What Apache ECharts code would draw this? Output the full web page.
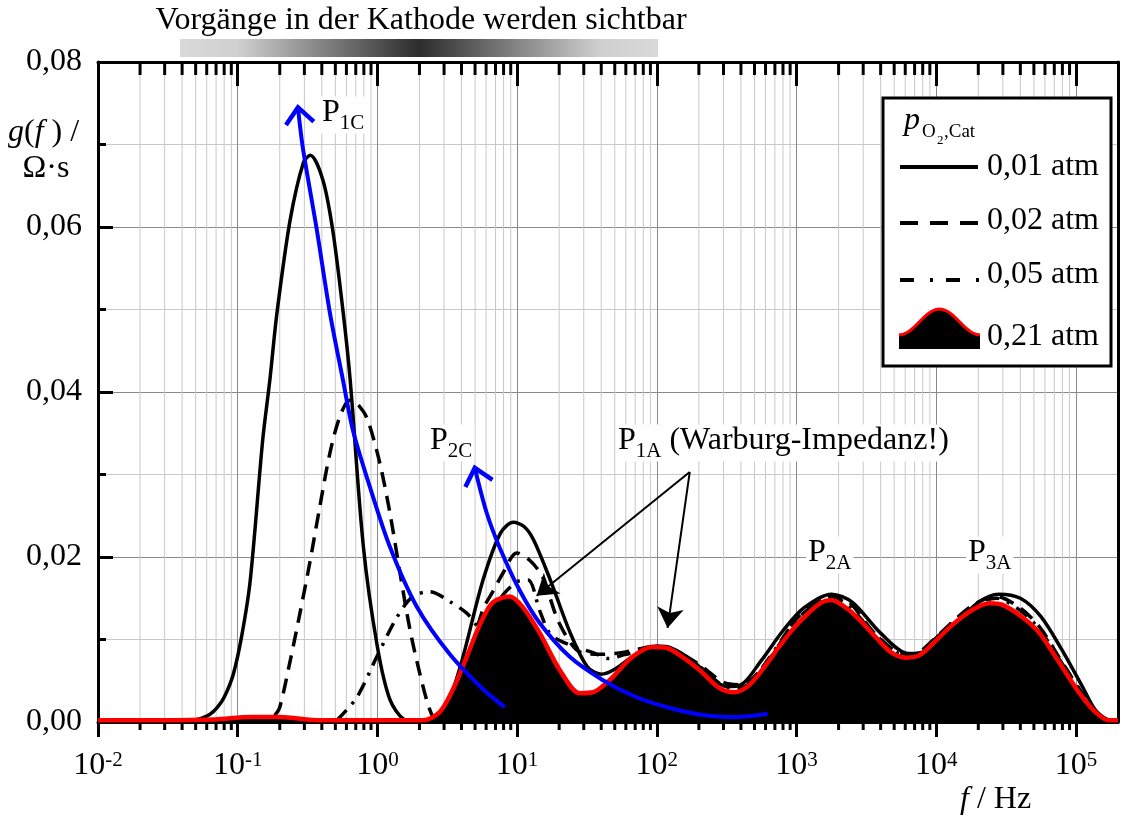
<!DOCTYPE html>
<html>
<head>
<meta charset="utf-8">
<script src="https://cdn.jsdelivr.net/npm/echarts@6/dist/echarts.min.js"></script>
<style>
  html, body { margin: 0; padding: 0; background: #fff; }
  #c { width: 1130px; height: 816px; }
</style>
</head>
<body>
<div id="c"></div>
<script>
const FONT = '"Liberation Serif", "Times New Roman", serif';
const FS = 32;

// Distribution of relaxation times g(f) in Ω·s over frequency f in Hz
// p(O2, cathode) = 0,01 atm
const f001 = [0.04, 0.054, 0.063, 0.071, 0.08, 0.093, 0.107, 0.123, 0.151, 0.17, 0.191, 0.237, 0.295, 0.331, 0.407, 0.479, 0.569, 0.638, 0.794, 1.0, 1.23, 1.55, 2.0, 2.8, 3.4, 4.1, 5.7, 7.6, 9.4, 11.2, 13.1, 17.3, 24, 31.8, 40, 50, 71, 100, 126, 178, 251, 316, 400, 562, 794, 1122, 1778, 2512, 3981, 6310, 8913, 12600, 20000, 28000, 40000, 56000, 79000, 112000, 141000, 178000, 200000];
const g001 = [0, 0.0004, 0.0009, 0.0017, 0.003, 0.0058, 0.0105, 0.0172, 0.0342, 0.0415, 0.0496, 0.0608, 0.0678, 0.0687, 0.0657, 0.0596, 0.0496, 0.0415, 0.0212, 0.0091, 0.0027, 0.0003, 0, 0.001, 0.0035, 0.0079, 0.0172, 0.0229, 0.0242, 0.0237, 0.0221, 0.0172, 0.0108, 0.0067, 0.0058, 0.0064, 0.0082, 0.0092, 0.009, 0.0075, 0.0052, 0.0043, 0.0045, 0.0075, 0.011, 0.0138, 0.0155, 0.0145, 0.0108, 0.0083, 0.0088, 0.0113, 0.0145, 0.0155, 0.015, 0.0128, 0.0088, 0.0042, 0.0012, 0.0001, 0];

// p(O2, cathode) = 0,02 atm
const f002 = [0.184, 0.2, 0.236, 0.279, 0.328, 0.387, 0.457, 0.538, 0.635, 0.749, 0.853, 1.04, 1.23, 1.45, 1.71, 2.01, 2.37, 2.66, 3.3, 4.36, 5.68, 6.7, 7.89, 9.94, 12.3, 15.2, 20, 28, 40, 60, 100, 150, 200, 300, 400, 640, 1000, 1500, 1900, 2400, 3700, 6100, 7600, 10000, 18000, 27000, 40000, 55000, 76000, 106000, 140000, 175000, 200000];
const g002 = [0.0008, 0.0018, 0.0072, 0.0132, 0.0193, 0.0261, 0.0326, 0.037, 0.039, 0.0382, 0.0366, 0.0314, 0.0253, 0.0181, 0.0112, 0.0059, 0.0015, 0.0002, 0.002, 0.007, 0.0136, 0.0158, 0.018, 0.0205, 0.0196, 0.0176, 0.012, 0.0085, 0.0082, 0.0085, 0.0092, 0.0082, 0.007, 0.0048, 0.0045, 0.0077, 0.0125, 0.0148, 0.0153, 0.0145, 0.0106, 0.0081, 0.0085, 0.0103, 0.0141, 0.0152, 0.0138, 0.0115, 0.0078, 0.004, 0.0013, 0.0001, 0];

// p(O2, cathode) = 0,05 atm
const f005 = [0.513, 0.713, 0.99, 1.38, 1.79, 2.37, 3.3, 4.36, 5.4, 6.7, 8, 10, 12, 14.5, 17, 20, 26, 35, 45, 60, 90, 120, 160, 200, 280, 360, 460, 640, 1000, 1500, 1800, 2300, 3700, 6100, 7600, 10000, 18000, 27000, 40000, 55000, 76000, 106000, 140000, 175000, 200000];
const g005 = [0.0002, 0.003, 0.0079, 0.0127, 0.0152, 0.0158, 0.0146, 0.0132, 0.0115, 0.0135, 0.0155, 0.017, 0.0172, 0.0135, 0.0108, 0.0099, 0.0091, 0.0084, 0.0077, 0.0082, 0.0088, 0.0084, 0.0076, 0.0068, 0.0047, 0.004, 0.0047, 0.0078, 0.0124, 0.0147, 0.015, 0.0143, 0.0105, 0.008, 0.0084, 0.0102, 0.014, 0.015, 0.0135, 0.0112, 0.0076, 0.0038, 0.0012, 0.0001, 0];

// p(O2, cathode) = 0,21 atm (air)
const f021 = [0.01, 0.028, 0.069, 0.123, 0.2, 0.39, 1.44, 2.11, 2.79, 3.46, 4.36, 5.41, 6.7, 8.85, 11, 14.5, 20.2, 28, 34.8, 46, 67, 93, 117, 146, 202, 281, 360, 461, 641, 719, 935, 1180, 1510, 1780, 2280, 2820, 3730, 4790, 6120, 7590, 10000, 13100, 18200, 24000, 29800, 41400, 54700, 76000, 106000, 140000, 173000, 200000];
const g021 = [0.0002, 0.0002, 0.0003, 0.0006, 0.0006, 0.0002, 0.0002, 0.0002, 0.0012, 0.0039, 0.0079, 0.0118, 0.0145, 0.0152, 0.0139, 0.0108, 0.0063, 0.0035, 0.0036, 0.0051, 0.0079, 0.0091, 0.009, 0.0081, 0.0063, 0.0041, 0.0036, 0.0045, 0.0075, 0.0087, 0.0112, 0.013, 0.0145, 0.0148, 0.0138, 0.0124, 0.0102, 0.0084, 0.0078, 0.0081, 0.0099, 0.0118, 0.0136, 0.0144, 0.0142, 0.0127, 0.0108, 0.0072, 0.0035, 0.0011, 0.0002, 0.0002];

// Shift of peaks P1C and P2C with rising oxygen partial pressure (first point = arrow tip)
const fTrend1C = [0.27, 0.292, 0.368, 0.457, 0.566, 0.667, 0.883, 1.23, 1.91, 3.3, 5.68, 8.15];
const gTrend1C = [0.0745, 0.0697, 0.0597, 0.0496, 0.0415, 0.0354, 0.0285, 0.0212, 0.014, 0.0082, 0.004, 0.0018];
const fTrend2C = [4.98, 6.07, 7.52, 10.4, 14.5, 23.8, 40.9, 71.7, 124, 213, 372, 621];
const gTrend2C = [0.0308, 0.0253, 0.0211, 0.016, 0.012, 0.0079, 0.0051, 0.003, 0.0017, 0.00085, 0.0006, 0.001];

// Pointer from the P1A note to both Warburg peaks
const p1aFrom = [172, 0.0303];
const p1aTargets = [[13.8, 0.0153], [119.4, 0.0114]];

// Axis tick labels
const yTicks = [0, 0.02, 0.04, 0.06, 0.08];
const xDecades = [0.01, 0.1, 1, 10, 100, 1000, 10000, 100000];

const pair = (fs, gs) => fs.map((f, i) => [f, gs[i]]);

// Log-axis sub-decade positions (2..9 × 10^k) for minor grid lines and ticks
const minorPos = [];
for (let e = -2; e <= 5; e++) {
  for (let m = 2; m <= 9; m++) {
    const f = m * Math.pow(10, e);
    if (f < 1.99e5) minorPos.push([f, 0]);
  }
}

// arrow heads: [f before tip, g before tip, f tip, g tip]
const trendHeads = [
  [fTrend1C[1], gTrend1C[1], fTrend1C[0], gTrend1C[0]],
  [fTrend2C[1], gTrend2C[1], fTrend2C[0], gTrend2C[0]]
];

const baseLine = {
  type: 'line', symbol: 'none', showSymbol: false, smooth: 0.3,
  silent: true, animation: false
};

const chart = echarts.init(document.getElementById('c'));

// legend hump icon
const humpTop = [];
for (let i = 0; i <= 24; i++) {
  const t = i / 24;
  humpTop.push([899 + 81 * t, 335 - 26 * Math.pow(Math.sin(Math.PI * t), 2)]);
}

const txt = (x, y, text, z) => ({
  type: 'text', x: x, y: y, z: z || 100,
  style: {
    text: text, font: FS + 'px ' + FONT, fill: '#000',
    align: 'left', verticalAlign: 'middle',
    textAlign: 'left', textVerticalAlign: 'middle'
  }
});

const subRich = {
  m: { fontFamily: FONT, fontSize: FS, verticalAlign: 'top', color: '#000' },
  s: { fontFamily: FONT, fontSize: 21, verticalAlign: 'top', padding: [16, 0, 0, 0], color: '#000' }
};

const peakLabel = (x, y, text) => ({
  type: 'text', x: x, y: y, z: 100,
  style: {
    text: text, rich: subRich, fill: '#000',
    align: 'left', verticalAlign: 'middle', textAlign: 'left', textVerticalAlign: 'middle',
    backgroundColor: '#fff', padding: [0, 2, 0, 2]
  }
});

chart.setOption({
  animation: false,
  grid: { left: 98, right: 12, top: 62, bottom: 94, outerBoundsMode: 'none', containLabel: false },
  xAxis: [{
    type: 'log', logBase: 10, min: 0.01, max: 2e5, splitNumber: 8, position: 'bottom',
    axisLine: { show: true, onZero: false, lineStyle: { color: '#000', width: 3 } },
    axisTick: { show: true, inside: false, length: 15, lineStyle: { color: '#000', width: 3 } },
    axisLabel: {
      margin: 28, showMaxLabel: false, color: '#000',
      formatter: v => {
        const e = Math.round(Math.log10(v));
        return xDecades.some(d => Math.abs(Math.log10(d) - e) < 1e-6) ? '{b|10}{s|' + e + '}' : '';
      },
      rich: {
        b: { fontFamily: FONT, fontSize: FS, verticalAlign: 'top', color: '#000' },
        s: { fontFamily: FONT, fontSize: 21, verticalAlign: 'top', color: '#000' }
      }
    },
    splitLine: { show: true, lineStyle: { color: '#8a8a8a', width: 1 } }
  }, {
    type: 'log', logBase: 10, min: 0.01, max: 2e5, splitNumber: 8, position: 'top',
    axisLine: { show: true, onZero: false, lineStyle: { color: '#000', width: 3 } },
    axisTick: { show: true, inside: true, length: 24, lineStyle: { color: '#000', width: 3 } },
    axisLabel: { show: false },
    splitLine: { show: false }
  }],
  yAxis: [{
    type: 'value', min: 0, max: 0.08, interval: 0.02, position: 'left',
    axisLine: { show: true, onZero: false, lineStyle: { color: '#000', width: 3 } },
    axisTick: { show: true, inside: true, length: 15, lineStyle: { color: '#000', width: 3 } },
    minorTick: { show: true, splitNumber: 2, length: 8, lineStyle: { color: '#000', width: 3 } },
    minorSplitLine: { show: true, lineStyle: { color: '#c8c8c8', width: 1 } },
    splitLine: { show: true, lineStyle: { color: '#8a8a8a', width: 1 } },
    axisLabel: {
      margin: 16, color: '#000', fontFamily: FONT, fontSize: FS,
      formatter: v => {
        const t = yTicks.find(k => Math.abs(k - v) < 1e-9);
        return t === undefined ? '' : t.toFixed(2).replace('.', ',');
      }
    }
  }, {
    type: 'value', min: 0, max: 0.08, interval: 0.02, position: 'right',
    axisLine: { show: true, onZero: false, lineStyle: { color: '#000', width: 3 } },
    axisTick: { show: false }, axisLabel: { show: false }, splitLine: { show: false }
  }],
  series: [
    {
      // sub-decade grid lines and ticks of the log frequency axis
      type: 'custom', z: 1, silent: true, clip: false, data: minorPos,
      renderItem: (params, api) => {
        const x = api.coord([api.value(0), 0])[0];
        const cs = params.coordSys;
        return {
          type: 'group', children: [
            { type: 'line', shape: { x1: x, y1: cs.y, x2: x, y2: cs.y + cs.height }, style: { stroke: '#c8c8c8', lineWidth: 1 } },
            { type: 'line', shape: { x1: x, y1: cs.y, x2: x, y2: cs.y + 13 }, style: { stroke: '#000', lineWidth: 3 } },
            { type: 'line', shape: { x1: x, y1: cs.y + cs.height, x2: x, y2: cs.y + cs.height + 8 }, style: { stroke: '#000', lineWidth: 3 } }
          ]
        };
      }
    },
    Object.assign({}, baseLine, { name: '0,01 atm', z: 3, data: pair(f001, g001), lineStyle: { color: '#000', width: 3.5 } }),
    Object.assign({}, baseLine, { name: '0,02 atm', z: 3, data: pair(f002, g002), lineStyle: { color: '#000', width: 3.5, type: [15, 9] } }),
    Object.assign({}, baseLine, { name: '0,05 atm', z: 3, data: pair(f005, g005), lineStyle: { color: '#000', width: 3.5, type: [14, 8, 3, 8] } }),
    Object.assign({}, baseLine, {
      name: '0,21 atm', z: 4, data: pair(f021, g021),
      lineStyle: { color: '#ff0000', width: 4.5 },
      areaStyle: { color: '#000', opacity: 1, origin: 'start' }
    }),
    Object.assign({}, baseLine, { name: 'P1C', z: 5, data: pair(fTrend1C, gTrend1C), lineStyle: { color: '#0000ff', width: 4 } }),
    Object.assign({}, baseLine, { name: 'P2C', z: 5, data: pair(fTrend2C, gTrend2C), lineStyle: { color: '#0000ff', width: 4 } }),
    {
      // open chevron heads at the tips of the trend curves
      type: 'custom', z: 6, silent: true, clip: false, data: trendHeads,
      encode: { x: [0, 2], y: [1, 3] },
      renderItem: (params, api) => {
        const p0 = api.coord([api.value(0), api.value(1)]);
        const p1 = api.coord([api.value(2), api.value(3)]);
        const dx = p1[0] - p0[0], dy = p1[1] - p0[1];
        const len = Math.hypot(dx, dy) || 1;
        const ux = dx / len, uy = dy / len, nx = -uy, ny = ux;
        const back = 16, side = 14;
        return {
          type: 'polyline',
          shape: { points: [
            [p1[0] - back * ux + side * nx, p1[1] - back * uy + side * ny],
            [p1[0], p1[1]],
            [p1[0] - back * ux - side * nx, p1[1] - back * uy - side * ny]
          ] },
          style: { stroke: '#0000ff', lineWidth: 4.5, fill: null, lineJoin: 'miter', lineCap: 'butt' }
        };
      }
    },
    {
      type: 'lines', coordinateSystem: 'cartesian2d', z: 6, silent: true,
      symbol: ['none', 'arrow'], symbolSize: [13, 20],
      lineStyle: { color: '#000', width: 2, opacity: 1, curveness: 0 },
      itemStyle: { color: '#000' },
      data: p1aTargets.map(t => ({ coords: [p1aFrom, t] }))
    }
  ],
  graphic: [
    // cathode visibility bar
    {
      type: 'rect', z: 100, shape: { x: 180, y: 39, width: 478, height: 18 },
      style: {
        fill: new echarts.graphic.LinearGradient(0, 0, 1, 0, [
          { offset: 0, color: '#d9d9d9' }, { offset: 0.12, color: '#d0d0d0' },
          { offset: 0.5, color: '#2c2c2c' },
          { offset: 0.88, color: '#d0d0d0' }, { offset: 1, color: '#d9d9d9' }
        ])
      }
    },
    {
      type: 'text', x: 421, y: 21, z: 100,
      style: { text: 'Vorgänge in der Kathode werden sichtbar', font: FS + 'px ' + FONT, fill: '#000',
        align: 'center', verticalAlign: 'middle', textAlign: 'center', textVerticalAlign: 'middle' }
    },
    // y axis name
    {
      type: 'text', x: 8, y: 133, z: 100,
      style: {
        text: '{i|g}{n|(}{i|f}{n| ) /}', fill: '#000',
        rich: { i: { fontFamily: FONT, fontSize: FS, fontStyle: 'italic', color: '#000' }, n: { fontFamily: FONT, fontSize: FS, color: '#000' } },
        align: 'left', verticalAlign: 'middle', textAlign: 'left', textVerticalAlign: 'middle'
      }
    },
    {
      type: 'text', x: 46, y: 169, z: 100,
      style: { text: 'Ω·s', font: FS + 'px ' + FONT, fill: '#000',
        align: 'center', verticalAlign: 'middle', textAlign: 'center', textVerticalAlign: 'middle' }
    },
    // x axis name
    {
      type: 'text', x: 960, y: 800, z: 100,
      style: {
        text: '{i|f}{n| / Hz}', fill: '#000',
        rich: { i: { fontFamily: FONT, fontSize: FS, fontStyle: 'italic', color: '#000' }, n: { fontFamily: FONT, fontSize: FS, color: '#000' } },
        align: 'left', verticalAlign: 'middle', textAlign: 'left', textVerticalAlign: 'middle'
      }
    },
    // peak names
    peakLabel(320, 115, '{m|P}{s|1C}'),
    peakLabel(428, 443, '{m|P}{s|2C}'),
    peakLabel(616, 443, '{m|P}{s|1A}{m| (Warburg-Impedanz!)}'),
    peakLabel(806, 555, '{m|P}{s|2A}'),
    peakLabel(966, 555, '{m|P}{s|3A}'),
    // legend box
    {
      type: 'rect', z: 100, shape: { x: 883, y: 98, width: 228, height: 268 },
      style: { fill: '#fff', stroke: '#000', lineWidth: 3 }
    },
    {
      type: 'text', x: 904, y: 121, z: 101,
      style: { text: 'p', font: 'italic ' + FS + 'px ' + FONT, fill: '#000', align: 'left', verticalAlign: 'middle', textAlign: 'left', textVerticalAlign: 'middle' }
    },
    {
      type: 'text', x: 922, y: 132, z: 101,
      style: { text: 'O', font: '19px ' + FONT, fill: '#000', align: 'left', verticalAlign: 'middle', textAlign: 'left', textVerticalAlign: 'middle' }
    },
    {
      type: 'text', x: 937, y: 141, z: 101,
      style: { text: '2', font: '13px ' + FONT, fill: '#000', align: 'left', verticalAlign: 'middle', textAlign: 'left', textVerticalAlign: 'middle' }
    },
    {
      type: 'text', x: 944, y: 132, z: 101,
      style: { text: ',Cat', font: '19px ' + FONT, fill: '#000', align: 'left', verticalAlign: 'middle', textAlign: 'left', textVerticalAlign: 'middle' }
    },
    { type: 'line', z: 101, shape: { x1: 900, y1: 167, x2: 978, y2: 167 }, style: { stroke: '#000', lineWidth: 4 } },
    { type: 'line', z: 101, shape: { x1: 900, y1: 223, x2: 978, y2: 223 }, style: { stroke: '#000', lineWidth: 4, lineDash: [18, 12] } },
    { type: 'line', z: 101, shape: { x1: 900, y1: 280, x2: 980, y2: 280 }, style: { stroke: '#000', lineWidth: 4, lineDash: [14, 16, 3, 13] } },
    { type: 'polygon', z: 101, shape: { points: [[899, 349]].concat(humpTop, [[980, 349]]) }, style: { fill: '#000' } },
    { type: 'polyline', z: 102, shape: { points: humpTop }, style: { stroke: '#ff0000', lineWidth: 3, fill: null } },
    txt(987, 167, '0,01 atm', 101),
    txt(987, 221, '0,02 atm', 101),
    txt(987, 275, '0,05 atm', 101),
    txt(987, 337, '0,21 atm', 101)
  ]
});
</script>
</body>
</html>
